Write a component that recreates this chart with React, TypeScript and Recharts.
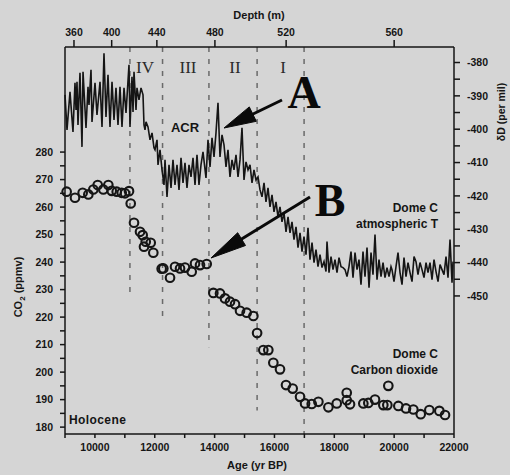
import { ComposedChart, Line, Scatter, XAxis, YAxis, ReferenceLine } from 'recharts'

// Dome C deuterium record (age yr BP, dD per mil)
const TEMP_AGE = [
  9000, 9067, 9167, 9267, 9334, 9368, 9401, 9434, 9501, 9568, 9602, 9702, 9769, 9802, 9869, 9902,
  10003, 10069, 10170, 10237, 10303, 10370, 10437, 10504, 10571, 10638, 10704, 10771, 10838, 10905,
  10972, 11039, 11139, 11172, 11239, 11273, 11306, 11373, 11406, 11473, 11540, 11607, 11640, 11674,
  11707, 11774, 11841, 11908, 11974, 12008, 12075, 12108, 12175, 12242, 12309, 12342, 12409, 12476,
  12543, 12609, 12676, 12743, 12810, 12877, 12944, 13010, 13077, 13144, 13211, 13278, 13345, 13411,
  13478, 13545, 13612, 13712, 13779, 13846, 13913, 13980, 14046, 14113, 14180, 14247, 14314, 14381,
  14447, 14514, 14581, 14648, 14715, 14782, 14849, 14915, 14982, 15049, 15116, 15183, 15250, 15316,
  15383, 15450, 15517, 15584, 15651, 15717, 15784, 15851, 15918, 15985, 16052, 16118, 16185, 16252,
  16319, 16386, 16453, 16520, 16586, 16653, 16720, 16787, 16854, 16921, 16987, 17054, 17121, 17188,
  17255, 17322, 17388, 17455, 17522, 17589, 17656, 17723, 17756, 17823, 17890, 17957, 18023, 18090,
  18157, 18224, 18291, 18358, 18424, 18491, 18558, 18625, 18692, 18759, 18825, 18892, 18959, 19026,
  19093, 19160, 19227, 19293, 19360, 19427, 19494, 19561, 19628, 19694, 19761, 19828, 19895, 19928,
  19995, 20062, 20129, 20196, 20263, 20329, 20396, 20463, 20530, 20597, 20664, 20730, 20797, 20864,
  20931, 20998, 21065, 21131, 21198, 21265, 21332, 21399, 21466, 21533, 21599, 21666, 21733, 21800,
  21867, 21934, 21967,
]
const TEMP_DD = [
  -389.7, -400.2, -388.8, -400.8, -386.1, -394.2, -385.8, -398.7, -383.1, -405.3, -382.8, -399.6, -387.3, -392.7, -382.2, -397.8,
  -386.1, -395.7, -385.8, -399.3, -377.2, -396.3, -383.7, -399.3, -385.8, -397.2, -387.6, -398.7, -387.3, -399.3,
  -387.6, -395.1, -380.7, -399.3, -384.3, -394.8, -382.8, -394.2, -387.6, -391.2, -387.6, -389.7, -398.7, -400.2,
  -397.8, -399.3, -403.2, -401.1, -405.6, -406.2, -403.2, -410.7, -406.2, -412.2, -416.7, -409.2, -420.3, -410.7,
  -417.6, -409.2, -416.7, -410.7, -418.2, -408.6, -416.1, -410.1, -417.6, -410.7, -414.3, -408.6, -416.7, -407.7,
  -416.7, -410.7, -406.8, -414.6, -403.2, -411.3, -402.6, -408.3, -401.1, -392.1, -408.3, -401.7, -404.7, -411.3,
  -406.2, -414.3, -409.2, -412.2, -407.7, -414.3, -409.2, -399.6, -415.2, -409.8, -412.2, -410.7, -416.1, -412.2,
  -415.2, -414.3, -418.2, -420.3, -416.1, -421.8, -417.6, -423.3, -419.7, -424.8, -421.8, -426.3, -423.3, -427.8,
  -425.1, -430.8, -426.3, -431.1, -427.8, -433.1, -429.3, -435.5, -431.1, -436.7, -432.2, -437.6, -429.6, -439.1,
  -434.0, -440.0, -436.1, -441.2, -437.6, -441.5, -439.7, -442.7, -433.7, -443.0, -438.2, -442.1, -439.1, -443.0,
  -438.5, -441.2, -441.5, -442.1, -444.2, -441.2, -436.7, -444.5, -437.0, -442.1, -439.1, -446.6, -436.7, -444.2,
  -435.5, -447.5, -437.0, -443.6, -431.6, -445.1, -439.1, -444.2, -440.0, -444.5, -441.5, -444.2, -441.2, -442.1,
  -445.7, -441.2, -437.0, -443.0, -446.6, -438.5, -444.2, -440.0, -443.0, -445.7, -438.2, -439.7, -443.6, -440.0,
  -442.1, -444.5, -440.0, -443.0, -440.0, -445.1, -439.1, -442.7, -445.7, -440.6, -442.1, -443.6, -438.2, -444.5,
  -433.1, -446.0, -439.7,
]

// Dome C CO2 measurements (age yr BP, ppmv)
const CO2_AGE = [
  9055, 9334, 9590, 9780, 9946, 10093, 10281, 10448, 10561, 10728, 10895, 11005, 11139, 11196,
  11306, 11507, 11596, 11640, 11697, 11864, 11951, 12230, 12286, 12510, 12677, 12844, 13010, 13234,
  13345, 13512, 13736, 13957, 14180, 14347, 14514, 14682, 14849, 15072, 15295, 15420, 15627, 15795,
  15962, 16185, 16386, 16609, 16855, 17022, 17245, 17468, 17802, 18081, 18415, 18415, 18525, 18970,
  19137, 19360, 19638, 19772, 19805, 20140, 20396, 20641, 20888, 21176, 21510, 21700,
]
const CO2_PPM = [
  265.6, 263.4, 265.2, 264.6, 266.4, 268.0, 266.4, 268.0, 265.9, 265.6, 265.2, 265.0, 265.8, 261.3,
  254.3, 251.0, 249.8, 245.6, 247.4, 247.0, 243.4, 237.6, 237.7, 234.3, 238.3, 237.7, 238.0, 236.5,
  239.5, 238.9, 239.3, 228.8, 228.6, 226.8, 225.6, 224.7, 222.3, 221.6, 220.4, 214.2, 208.0, 208.0,
  203.4, 201.0, 195.3, 194.0, 191.0, 188.6, 188.4, 189.2, 187.2, 188.6, 192.5, 189.8, 188.3, 188.6,
  188.8, 190.0, 188.0, 188.0, 195.0, 187.7, 186.8, 186.4, 184.7, 186.2, 185.9, 184.4,
]

const AGE_TICKS = [9000, 10000, 11000, 12000, 13000, 14000, 15000, 16000, 17000, 18000, 19000, 20000, 21000, 22000]
const CO2_TICKS = [180, 185, 190, 195, 200, 205, 210, 215, 220, 225, 230, 235, 240, 245, 250, 255, 260, 265, 270, 275, 280]
const DD_TICKS = [-450, -445, -440, -435, -430, -425, -420, -415, -410, -405, -400, -395, -390, -385, -380]
const DEPTH_LABELS = [360, 400, 440, 480, 520, 560]
const DEPTH_AT_AGE = [9300, 10560, 12070, 14010, 16390, 20000]

// boundaries of the zones IV..I, and where each dashed line stops (ppmv)
const ZONE_AGES = [11170, 12260, 13810, 15420, 16990]
const ZONE_ENDS = [228, 219, 209, 186, 177.5]

const AGE_DOMAIN = [9000, 22000]
const CO2_DOMAIN = [177.5, 318.2]
const DD_DOMAIN = [-491.4, -375.35]

const BG = '#d5d5d5'
const INK = '#151515'
const SANS = '"Liberation Sans", Arial, sans-serif'
const SERIF = '"Liberation Serif", "Times New Roman", serif'

const tempData = TEMP_AGE.map((age, i) => ({ age, dd: TEMP_DD[i] }))
const co2Data = CO2_AGE.map((age, i) => ({ age, co2: CO2_PPM[i] }))

const tickStyle = { fontSize: 10.5, fill: INK, fontFamily: SANS, fontWeight: 700 }
const lineStyle = { stroke: INK, strokeWidth: 1.5 }

const Ring = (p: any) => (
  <circle cx={p.cx} cy={p.cy} r={4.3} fill="none" stroke={INK} strokeWidth={2.1} />
)

export default function App() {
  return (
    <div style={{ position: 'absolute', left: 0, top: 0, width: 510, height: 475, background: BG, overflow: 'hidden' }}>
      <ComposedChart width={510} height={475} margin={{ top: 22, right: 11, bottom: 11, left: 25 }}>
        <XAxis
          xAxisId="age" dataKey="age" type="number" domain={AGE_DOMAIN} ticks={AGE_TICKS}
          tickFormatter={(v: number) => (v % 2000 === 0 ? String(v) : '')}
          height={30} tickSize={4} tickMargin={6} tick={tickStyle}
          axisLine={lineStyle} tickLine={lineStyle} interval={0}
        />
        <XAxis
          xAxisId="depth" orientation="top" dataKey="age" type="number" domain={AGE_DOMAIN}
          ticks={DEPTH_AT_AGE}
          tickFormatter={(v: number) => String(DEPTH_LABELS[DEPTH_AT_AGE.indexOf(v)])}
          height={25} tickSize={7} tickMargin={4} tick={tickStyle}
          axisLine={lineStyle} tickLine={lineStyle} interval={0}
        />
        <YAxis
          yAxisId="co2" dataKey="co2" type="number" domain={CO2_DOMAIN} ticks={CO2_TICKS}
          tickFormatter={(v: number) => (v % 10 === 0 ? String(v) : '')}
          width={40} tickSize={5} tickMargin={7} tick={tickStyle}
          axisLine={lineStyle} tickLine={lineStyle} interval={0}
        />
        <YAxis
          yAxisId="dd" orientation="right" dataKey="dd" type="number" domain={DD_DOMAIN} ticks={DD_TICKS}
          tickFormatter={(v: number) => (v % 10 === 0 ? String(v) : '')}
          width={45} tickSize={6} tickMargin={7} tick={{ ...tickStyle, textAnchor: 'start' }}
          axisLine={lineStyle} tickLine={lineStyle} interval={0}
        />
        {ZONE_AGES.map((a, i) => (
          <ReferenceLine
            key={a} xAxisId="age" yAxisId="co2"
            segment={[{ x: a, y: CO2_DOMAIN[1] }, { x: a, y: ZONE_ENDS[i] }]}
            stroke="#6a6a6a" strokeWidth={1.5} strokeDasharray="5 7"
          />
        ))}
        {/* invisible copy so the depth axis has a series bound to it */}
        <Line
          xAxisId="depth" yAxisId="dd" data={tempData} dataKey="dd" type="linear"
          stroke="none" dot={false} activeDot={false} isAnimationActive={false}
        />
        <Line
          xAxisId="age" yAxisId="dd" data={tempData} dataKey="dd" type="linear"
          stroke={INK} strokeWidth={1.6} dot={false} isAnimationActive={false}
        />
        <Scatter
          xAxisId="age" yAxisId="co2" data={co2Data} dataKey="co2"
          shape={Ring} isAnimationActive={false}
        />
      </ComposedChart>

      <svg width={510} height={475} style={{ position: 'absolute', left: 0, top: 0, pointerEvents: 'none' }}>
        <g fontFamily={SANS} fontWeight={700} fill={INK}>
          <text x={259} y={19} fontSize={11} textAnchor="middle">Depth (m)</text>
          <text x={257} y={469} fontSize={11} textAnchor="middle">Age (yr BP)</text>
          <text transform="translate(22,287) rotate(-90)" fontSize={11} textAnchor="middle">
            CO<tspan fontSize={8} dy={3}>2</tspan><tspan dy={-3}> (ppmv)</tspan>
          </text>
          <text transform="translate(505,112) rotate(-90)" fontSize={10.5} textAnchor="middle">δD (per mil)</text>

          <text x={185} y={132} fontSize={13} textAnchor="middle">ACR</text>
          <text x={438} y={212} fontSize={12} textAnchor="end">Dome C</text>
          <text x={438} y={228} fontSize={12} textAnchor="end">atmospheric T</text>
          <text x={438} y={358} fontSize={12} textAnchor="end">Dome C</text>
          <text x={438} y={374} fontSize={12} textAnchor="end">Carbon dioxide</text>
          <text x={69} y={424} fontSize={12} letterSpacing={0.4}>Holocene</text>
        </g>

        <g fontFamily={SERIF} fill="#2a2a2a" fontSize={17} textAnchor="middle">
          <text x={145} y={73}>IV</text>
          <text x={188} y={73}>III</text>
          <text x={235} y={73}>II</text>
          <text x={283} y={73}>I</text>
        </g>

        <g fontFamily={SERIF} fontWeight={700} fill="#0a0a0a" fontSize={46} textAnchor="middle">
          <text x={304} y={108}>A</text>
          <text x={330} y={216}>B</text>
        </g>

        <g fill="#0a0a0a" stroke="#0a0a0a">
          <line x1={282} y1={100} x2={252} y2={114.5} strokeWidth={3} />
          <polygon points="224,128 256.3,121.3 249.3,106.9" strokeWidth={1} />
          <line x1={310} y1={197} x2={240} y2={240} strokeWidth={3} />
          <polygon points="211,258 245.5,245.5 237.7,232.7" strokeWidth={1} />
        </g>
      </svg>
    </div>
  )
}
